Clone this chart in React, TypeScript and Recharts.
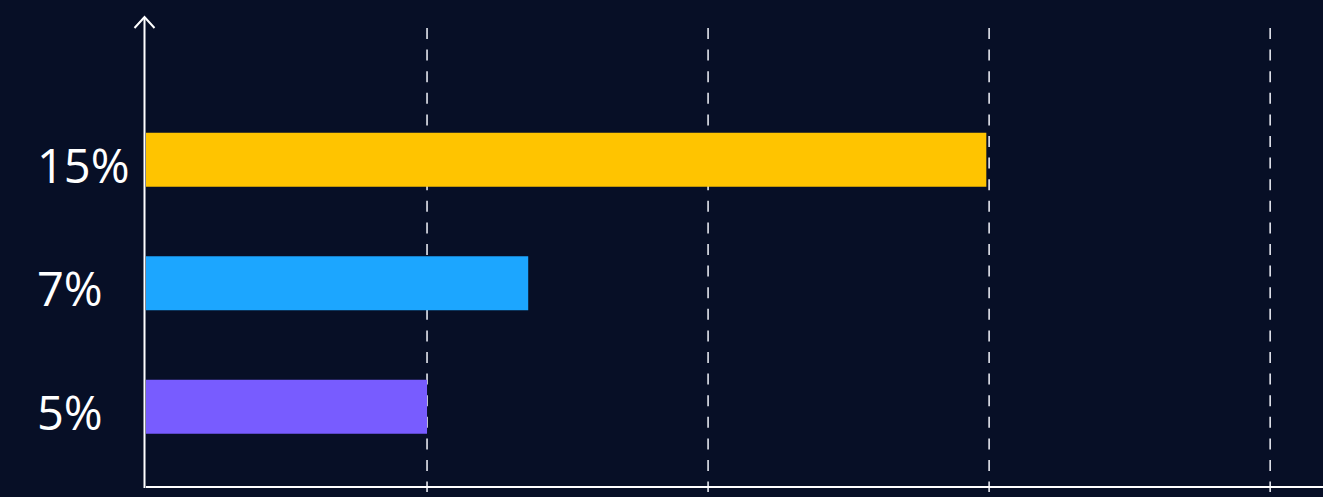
import React from "react";
import { BarChart, Bar, XAxis, YAxis, CartesianGrid, Cell } from "recharts";

const categories = ["15%", "7%", "5%"];
const values = [14.95, 6.8, 5];
const colors = ["#FFC400", "#1CA6FF", "#785CFF"];
const xTicks = [5, 10, 15, 20];

const data = categories.map((c, i) => ({ name: c, value: values[i] }));

const BG = "#070f26";
const W = 1323;
const H = 497;

const YTick = (props: any) => {
  const { y, payload } = props;
  return (
    <text
      x={37}
      y={y + 23}
      textAnchor="start"
      fill="#ffffff"
      fontSize={47}
      fontFamily="'Open Sans', 'Noto Sans', sans-serif"
    >
      {payload.value}
    </text>
  );
};

const EmptyTick = () => <g />;

const YAxisDecor = (props: any) => {
  const vb = props.viewBox || {};
  const x = (vb.x ?? 0) + (vb.width ?? 146) - 1.5;
  const top = vb.y ?? 17;
  const bottom = top + (vb.height ?? 470) + 1;
  return (
    <g>
      <line x1={x} y1={top} x2={x} y2={bottom} stroke="#ffffff" strokeWidth={2} />
      <polyline
        points={`${x - 10},${top + 11} ${x},${top} ${x + 10},${top + 11}`}
        fill="none"
        stroke="#ffffff"
        strokeWidth={2}
      />
    </g>
  );
};

const GridLine = (props: any) => {
  const { x1, x2, y1, y2 } = props;
  return (
    <line
      key={props.key}
      x1={x1}
      x2={x2}
      y1={y1 + 11}
      y2={y2 + 5}
      stroke="#e4e6ee"
      strokeWidth={1.6}
      strokeDasharray="11 10.6"
    />
  );
};

export default function App() {
  return (
    <div style={{ position: "fixed", left: 0, top: 0, width: W, height: H, background: BG }}>
      <BarChart
        width={W}
        height={H}
        data={data}
        layout="vertical"
        margin={{ top: 17, right: 0, bottom: 0, left: 0 }}
        barCategoryGap={0}
      >
        <CartesianGrid
          horizontal={false}
          vertical={GridLine as any}
          stroke="#e4e6ee"
          syncWithTicks
        />
        <XAxis
          type="number"
          domain={[0, 20.94]}
          ticks={xTicks}
          allowDataOverflow
          height={10}
          tick={<EmptyTick />}
          tickLine={false}
          axisLine={{ stroke: "#ffffff", strokeWidth: 2 }}
        />
        <YAxis
          type="category"
          dataKey="name"
          width={146}
          axisLine={false}
          tickLine={false}
          tick={<YTick />}
          padding={{ top: 80.75, bottom: 18.75 }}
          label={<YAxisDecor />}
        />
        <Bar dataKey="value" barSize={54} isAnimationActive={false}>
          {data.map((d, i) => (
            <Cell key={d.name} fill={colors[i]} />
          ))}
        </Bar>
      </BarChart>
    </div>
  );
}
